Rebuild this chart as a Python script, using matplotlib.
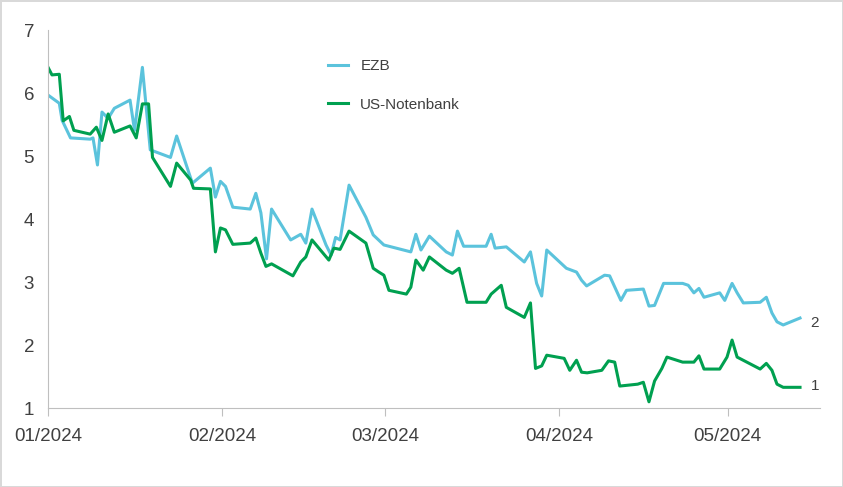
import matplotlib
matplotlib.use("Agg")
import matplotlib.pyplot as plt
import matplotlib.dates as mdates
import numpy as np
import datetime as dt

plt.rcParams['font.family'] = ['Liberation Sans', 'DejaVu Sans']

# day offsets from 01.01.2024 and values
ezb_days = [0, 2, 2.5, 4, 7.5, 8, 8.8, 9.6, 10.7, 11.8, 14.6, 15.4, 16.8, 18.2, 21.8, 22.9, 25.7, 28.9, 29.8, 30.7,
            31.6, 32.9, 36, 37, 37.9, 38.9, 39.8, 43.2, 45, 45.9, 47, 49.5, 50.4, 51.2, 52, 53.6, 56.6, 57.9, 59.8,
            64.6, 65.5, 66.4, 67.9, 70.9, 72, 72.9, 74, 78, 78.9, 79.6, 81.6, 84.8, 85.9, 87, 87.9, 88.8, 92.3,
            94.1, 95, 95.9, 99.1, 100, 102, 103, 106, 107, 108, 109.6, 113, 114, 115, 115.9, 116.8, 119.6, 120.5,
            121.8, 122.7, 123.8, 126.8, 127.9, 128.9, 129.8, 130.9, 133.9]
ezb_vals = [5.97, 5.84, 5.57, 5.29, 5.27, 5.29, 4.86, 5.70, 5.60, 5.76, 5.89, 5.41, 6.41, 5.10, 4.98, 5.32, 4.57, 4.81,
            4.35, 4.60, 4.52, 4.19, 4.16, 4.41, 4.10, 3.37, 4.16, 3.67, 3.76, 3.62, 4.16, 3.59, 3.43, 3.71, 3.67, 4.54,
            4.03, 3.75, 3.59, 3.48, 3.76, 3.51, 3.73, 3.48, 3.43, 3.81, 3.57, 3.57, 3.76, 3.54, 3.56, 3.32, 3.48, 2.98,
            2.78, 3.51, 3.22, 3.16, 3.03, 2.94, 3.11, 3.10, 2.71, 2.87, 2.89, 2.62, 2.63, 2.98, 2.98, 2.95, 2.83, 2.90,
            2.76, 2.83, 2.71, 2.98, 2.83, 2.67, 2.68, 2.76, 2.51, 2.37, 2.32, 2.43]

us_days = [0, 0.7, 2, 2.7, 3.8, 4.6, 7.5, 8.6, 9.6, 10.7, 11.8, 14.6, 15.7, 16.8, 17.9, 18.6, 21.8, 22.9, 25.4, 25.9,
           28.9, 29.8, 30.7, 31.6, 32.9, 36, 37, 37.9, 38.8, 39.8, 43.6, 45, 45.9, 47, 50, 50.9, 52, 53.6, 56.6,
           57.9, 58.9, 59.8, 60.7, 63.8, 64.6, 65.5, 66.8, 67.9, 70.9, 72, 73.2, 74.6, 78, 78.9, 80.7, 81.6, 84.8,
           85.9, 86.8, 87.9, 88.8, 91.9, 92.9, 94.1, 95, 96, 98.6, 99.8, 100.9, 101.8, 105, 106, 107, 108, 109.3,
           110.2, 113, 115, 115.9, 116.8, 119.6, 120.9, 121.8, 122.7, 126.8, 127.9, 128.9, 129.8, 130.9, 133.9]
us_vals = [6.41, 6.29, 6.30, 5.56, 5.63, 5.41, 5.35, 5.46, 5.25, 5.67, 5.38, 5.48, 5.29, 5.83, 5.83, 4.98, 4.52, 4.89,
           4.62, 4.49, 4.48, 3.48, 3.86, 3.83, 3.60, 3.62, 3.70, 3.46, 3.25, 3.29, 3.10, 3.32, 3.40, 3.67, 3.35, 3.54,
           3.52, 3.81, 3.62, 3.22, 3.16, 3.11, 2.87, 2.81, 2.92, 3.35, 3.19, 3.40, 3.19, 3.14, 3.22, 2.68, 2.68, 2.81,
           2.95, 2.60, 2.44, 2.67, 1.63, 1.67, 1.84, 1.79, 1.60, 1.76, 1.57, 1.56, 1.60, 1.75, 1.73, 1.35, 1.38, 1.41,
           1.10, 1.43, 1.63, 1.81, 1.73, 1.73, 1.83, 1.62, 1.62, 1.81, 2.08, 1.81, 1.62, 1.71, 1.60, 1.38, 1.33, 1.33]

t0 = dt.datetime(2024, 1, 1)


def to_dates(days):
    return [t0 + dt.timedelta(days=d) for d in days]


fig = plt.figure(figsize=(8.43, 4.87), dpi=100, facecolor='white', edgecolor='#d9d9d9', linewidth=1)
ax = fig.add_axes([0.057, 0.162, 0.916, 0.776])

ax.plot(to_dates(ezb_days), ezb_vals, color='#5bc3dc', lw=2.2, label='EZB')
ax.plot(to_dates(us_days), us_vals, color='#00a050', lw=2.2, label='US-Notenbank')

ax.set_ylim(1, 7)
ax.set_xlim(t0, t0 + dt.timedelta(days=137.5))
ax.xaxis.set_major_locator(mdates.MonthLocator())
ax.xaxis.set_major_formatter(mdates.DateFormatter('%m/%Y'))
ax.set_yticks(range(1, 8))

for s in ['top', 'right']:
    ax.spines[s].set_visible(False)
for s in ['left', 'bottom']:
    ax.spines[s].set_color('#bfbfbf')
ax.tick_params(axis='both', colors='#bfbfbf', labelcolor='#404040', labelsize=13.5)
ax.tick_params(axis='x', length=6, pad=8)
ax.tick_params(axis='y', length=0, pad=10)

ax.text(t0 + dt.timedelta(days=135.8), ezb_vals[-1] - 0.15, '2', fontsize=11, color='#404040')
ax.text(t0 + dt.timedelta(days=135.8), us_vals[-1] - 0.05, '1', fontsize=11, color='#404040')

ax.legend(loc='upper left', bbox_to_anchor=(0.345, 0.96), frameon=False, fontsize=11,
          handlelength=1.3, labelspacing=1.6, labelcolor='#404040')

fig.savefig('out.png', dpi=100, facecolor='white', edgecolor='#d9d9d9')
